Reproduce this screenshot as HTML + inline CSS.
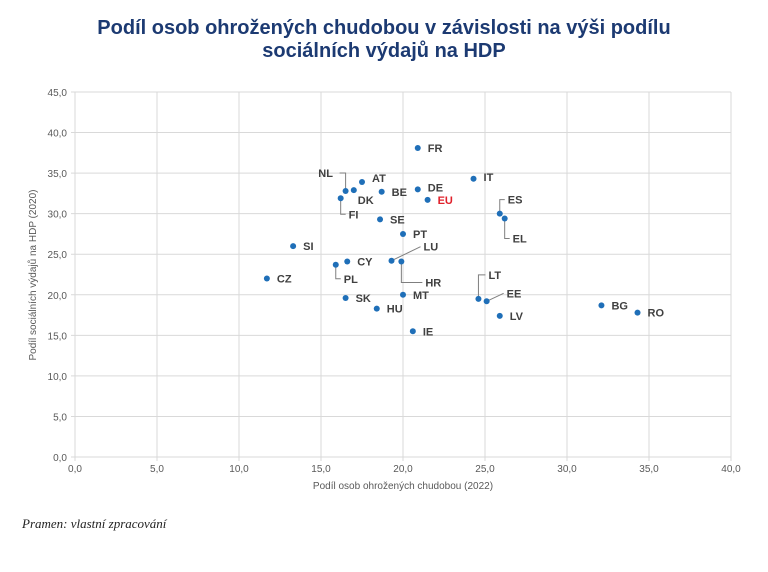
<!DOCTYPE html>
<html><head><meta charset="utf-8"><style>
body{margin:0;background:#fff;width:768px;height:567px;overflow:hidden;font-family:"Liberation Sans",sans-serif}
</style></head><body>
<svg width="768" height="567" id="svg" font-family="Liberation Sans, DejaVu Sans, sans-serif">
<text x="384" y="34" text-anchor="middle" font-size="20" font-weight="bold" fill="#1c3a72">Podíl osob ohrožených chudobou v závislosti na výši podílu</text>
<text x="384" y="57" text-anchor="middle" font-size="20" font-weight="bold" fill="#1c3a72">sociálních výdajů na HDP</text>
<g id="grid"></g><g id="ticks"></g><g id="marks"></g>
<text x="403" y="489" text-anchor="middle" font-size="10" fill="#595959">Podíl osob ohrožených chudobou (2022)</text>
<text transform="translate(36,275) rotate(-90)" text-anchor="middle" font-size="10" fill="#595959">Podíl sociálních výdajů na HDP (2020)</text>
<text x="22" y="528" font-size="13" font-style="italic" font-family="Liberation Serif, serif" fill="#222">Pramen: vlastní zpracování</text>
</svg>
<script>
const countries=["FR","AT","NL","DK","BE","DE","EU","IT","FI","SE","ES","EL","PT","SI","LU","HR","CY","PL","CZ","LT","EE","MT","SK","HU","LV","IE","BG","RO"];
const povertyRate=[20.9,17.5,16.5,17.0,18.7,20.9,21.5,24.3,16.2,18.6,25.9,26.2,20.0,13.3,19.3,19.9,16.6,15.9,11.7,24.6,25.1,20.0,16.5,18.4,25.9,20.6,32.1,34.3];
const socialSpend=[38.1,33.9,32.8,32.9,32.7,33.0,31.7,34.3,31.9,29.3,30.0,29.4,27.5,26.0,24.2,24.1,24.1,23.7,22.0,19.5,19.2,20.0,19.6,18.3,17.4,15.5,18.7,17.8];
const xTicks=[0,5,10,15,20,25,30,35,40];
const yTicks=[0,5,10,15,20,25,30,35,40,45];
const lab={FR:[10,4],AT:[10,0],NL:[-20,-14,1],DK:[4,14],BE:[10,4],DE:[10,2],EU:[10,4],IT:[10,2],FI:[8,20,1],SE:[10,4],ES:[8,-10,1],EL:[8,24,1],PT:[10,4],SI:[10,4],LU:[32,-10,1],HR:[24,25,1],CY:[10,4],PL:[8,18,1],CZ:[10,4],LT:[10,-20,1],EE:[20,-4,1],MT:[10,4],SK:[10,4],HU:[10,4],LV:[10,4],IE:[10,4],BG:[10,4],RO:[10,4]};
const X0=75,X1=731,Y0=457,Y1=92;
const sx=v=>X0+(v-0)/40*(X1-X0), sy=v=>Y0-(v-0)/45*(Y0-Y1);
const NS="http://www.w3.org/2000/svg";
function mk(t,a,p){const e=document.createElementNS(NS,t);for(const k in a)e.setAttribute(k,a[k]);document.getElementById(p).appendChild(e);return e;}
xTicks.forEach(v=>{const l=mk("line",{x1:sx(v),x2:sx(v),y1:Y1,y2:Y0+4,stroke:"#d9d9d9"},"grid");


const t=mk("text",{x:sx(v),y:Y0+15,"text-anchor":"middle","font-size":10,fill:"#595959"},"ticks");t.textContent=v.toFixed(1).replace(".",",");

});
yTicks.forEach(v=>{const l=mk("line",{x1:X0-4,x2:X1,y1:sy(v),y2:sy(v),stroke:"#d9d9d9"},"grid");


const t=mk("text",{x:X0-8,y:sy(v)+4,"text-anchor":"end","font-size":10,fill:"#595959"},"ticks");t.textContent=v.toFixed(1).replace(".",",");

});
countries.forEach((c,i)=>{const x=sx(povertyRate[i]),y=sy(socialSpend[i]);const o=lab[c];
const lx=x+o[0],ly=y+o[1];
if(o[2]){let ex=o[0]<0?lx+14:lx-3,ey=ly-4;const p=mk("polyline",{points:`${x},${y} ${x},${ey} ${ex},${ey}`.replace(/^([^ ]+ )([^ ]+) /, (m,a,b)=>a+(Math.abs(o[1])>o[0]?b:`${x},${y}`)+" "),fill:"none",stroke:"#7f7f7f","stroke-width":1},"marks");

}
const d=mk("circle",{cx:x,cy:y,r:3,fill:"#1f6fb8"},"marks");


const t=mk("text",{x:lx,y:ly,"font-size":11,"font-weight":"bold",fill:c==="EU"?"#e0202a":"#404040","text-anchor":o[0]<0?"middle":"start"},"marks");t.textContent=c;

});
</script>
</body></html>
